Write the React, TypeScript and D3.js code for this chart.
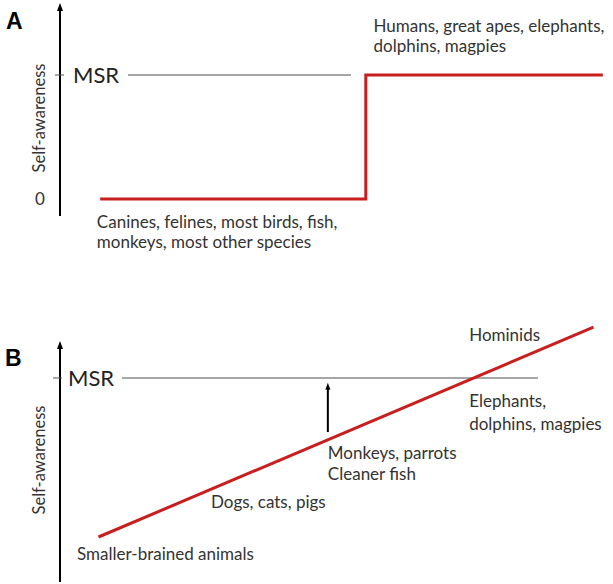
import React from "react";
import * as d3 from "d3";

// Panel A: step function (x in arbitrary "brain" units, y: 0 = none, 1 = MSR)
const stepX = [7.3, 55.6, 55.6, 98.7];
const stepY = [0, 0, 1, 1];
const msrA = 1;
const tickLabelsA = ["0", "MSR"];
const labelsA = [
  { x: 6.7, y: -0.185, lines: ["Canines, felines, most birds, fish,", "monkeys, most other species"] },
  { x: 57, y: 1.395, lines: ["Humans, great apes, elephants,", "dolphins, magpies"] },
];

// Panel B: linear rise
const lineBX = [7, 97];
const lineBY = [0, 1.32];
const msrB = 1;
const labelsB = [
  { x: 3.1, y: -0.107, lines: ["Smaller-brained animals"], gap: 21 },
  { x: 27.45, y: 0.22, lines: ["Dogs, cats, pigs"], gap: 21 },
  { x: 48.7, y: 0.528, lines: ["Monkeys, parrots", "Cleaner fish"], gap: 21 },
  { x: 74.4, y: 1.27, lines: ["Hominids"], gap: 21 },
  { x: 74.4, y: 0.855, lines: ["Elephants,", "dolphins, magpies"], gap: 23 },
];
const arrowB = { x: 48.7, y0: 0.66, y1: 0.97 };

const FONT = "Lato, 'Open Sans', sans-serif";
const TXT = "#333";

function Arrow({ x, y1, y2, w = 2, head = 6, len = 8 }: { x: number; y1: number; y2: number; w?: number; head?: number; len?: number }) {
  // y1 bottom, y2 tip (tip above)
  return (
    <g>
      <line x1={x} x2={x} y1={y1} y2={y2 + len - 1} stroke="#000" strokeWidth={w} />
      <path d={`M${x - head / 2},${y2 + len} L${x},${y2} L${x + head / 2},${y2 + len} Z`} fill="#000" />
    </g>
  );
}

export default function App() {
  const x = d3.scaleLinear().domain([0, 100]).range([60, 610]);
  const yA = d3.scaleLinear().domain([0, 1]).range([199, 75]);
  const yB = d3.scaleLinear().domain([0, 1]).range([537, 378]);

  const stepLine = d3
    .line<number>()
    .x((d) => x(stepX[d]))
    .y((d) => yA(stepY[d]));
  const lineB = d3
    .line<number>()
    .x((d) => x(lineBX[d]))
    .y((d) => yB(lineBY[d]));

  return (
    <svg width={613} height={584} style={{ position: "absolute", left: 0, top: 0, background: "#fff" }}>
      {/* Panel A */}
      <text x={6} y={29} fontFamily="Arial, 'Liberation Sans', sans-serif" fontWeight="bold" fontSize={23} fill="#000">A</text>
      <Arrow x={60} y1={216} y2={3} />
      <line x1={55} x2={64} y1={yA(msrA)} y2={yA(msrA)} stroke="#555" strokeWidth={1} />
      <text x={73} y={yA(msrA)} dy="0.35em" fontFamily={FONT} fontSize={22} fill="#222">{tickLabelsA[1]}</text>
      <text x={40} y={yA(0)} dy="0.35em" textAnchor="middle" fontFamily={FONT} fontSize={17} fill={TXT}>{tickLabelsA[0]}</text>
      <line x1={128} x2={351} y1={yA(msrA)} y2={yA(msrA)} stroke="#888" strokeWidth={1.5} />
      <path d={stepLine(d3.range(stepX.length)) || ""} fill="none" stroke="#c81e1e" strokeWidth={3} />
      <text transform={`translate(45,118) rotate(-90)`} textAnchor="middle" fontFamily={FONT} fontSize={16.5} fill={TXT}>Self-awareness</text>
      {labelsA.map((l, i) => (
        <text key={i} x={x(l.x)} y={yA(l.y)} fontFamily={FONT} fontSize={17} fill={TXT}>
          {l.lines.map((s, j) => (
            <tspan key={j} x={x(l.x)} dy={j === 0 ? "0.35em" : 20}>{s}</tspan>
          ))}
        </text>
      ))}

      {/* Panel B */}
      <text x={5} y={366} fontFamily="Arial, 'Liberation Sans', sans-serif" fontWeight="bold" fontSize={23} fill="#000">B</text>
      <Arrow x={60} y1={582} y2={341} />
      <line x1={53} x2={62} y1={yB(msrB)} y2={yB(msrB)} stroke="#555" strokeWidth={1} />
      <text x={68} y={yB(msrB)} dy="0.35em" fontFamily={FONT} fontSize={22} fill="#222">MSR</text>
      <line x1={122} x2={538} y1={yB(msrB)} y2={yB(msrB)} stroke="#888" strokeWidth={1.5} />
      <path d={lineB([0, 1]) || ""} fill="none" stroke="#c81e1e" strokeWidth={3} />
      <Arrow x={x(arrowB.x)} y1={yB(arrowB.y0)} y2={yB(arrowB.y1)} head={5} len={7} />
      <text transform={`translate(45,460) rotate(-90)`} textAnchor="middle" fontFamily={FONT} fontSize={16.5} fill={TXT}>Self-awareness</text>
      {labelsB.map((l, i) => (
        <text key={i} x={x(l.x)} y={yB(l.y)} fontFamily={FONT} fontSize={17} fill={TXT}>
          {l.lines.map((s, j) => (
            <tspan key={j} x={x(l.x)} dy={j === 0 ? "0.35em" : l.gap}>{s}</tspan>
          ))}
        </text>
      ))}
    </svg>
  );
}
